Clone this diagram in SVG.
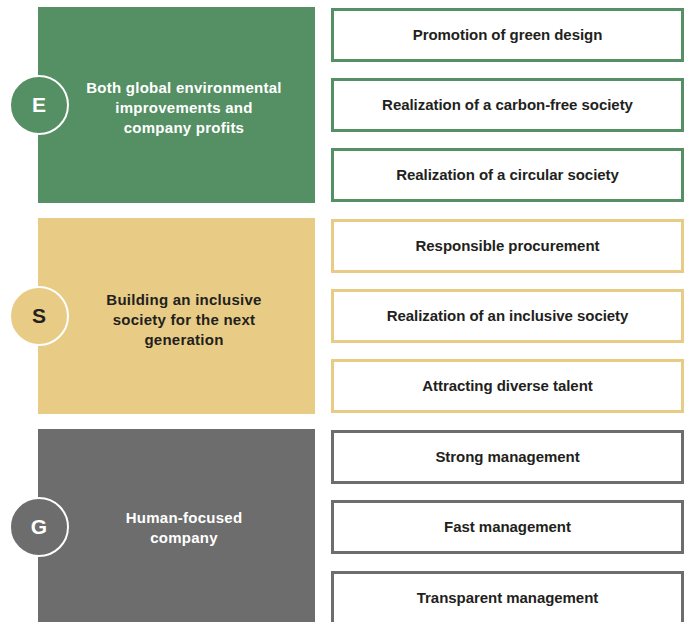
<svg xmlns="http://www.w3.org/2000/svg" width="689" height="622" viewBox="0 0 689 622">
<style>
.bg{fill:#ffffff}
.pe{fill:#558f64}
.ps{fill:#e8cc85}
.pg{fill:#6d6d6d}
.be{fill:#ffffff;stroke:#558f64;stroke-width:3}
.bs{fill:#ffffff;stroke:#e8cc85;stroke-width:3}
.bg2{fill:#ffffff;stroke:#6d6d6d;stroke-width:3}
.ce{fill:#558f64;stroke:#ffffff;stroke-width:2}
.cs{fill:#e8cc85;stroke:#ffffff;stroke-width:2}
.cg{fill:#6d6d6d;stroke:#ffffff;stroke-width:2}
text{font-family:"Liberation Sans",Arial,sans-serif;font-weight:bold;text-anchor:middle}
.bt{font-size:15px;fill:#231f20;letter-spacing:-0.05px}
.pt{font-size:15px;letter-spacing:0.25px}
.w{fill:#ffffff}
.d{fill:#231f20}
.lt{font-size:21px}
</style>
<rect class="bg" x="0" y="0" width="689" height="622"/>
<g id="panel-E">
<rect class="pe" x="38" y="7" width="277" height="196"/>
<circle class="ce" cx="39" cy="105" r="29"/>
<text class="lt w" x="39" y="112">E</text>
<text class="pt w" x="184" y="93">Both global environmental</text>
<text class="pt w" x="184" y="113">improvements and</text>
<text class="pt w" x="184" y="133">company profits</text>
</g>
<g id="panel-S">
<rect class="ps" x="38" y="218" width="277" height="196"/>
<circle class="cs" cx="39" cy="316" r="29"/>
<text class="lt d" x="39" y="323">S</text>
<text class="pt d" x="184" y="305">Building an inclusive</text>
<text class="pt d" x="184" y="325">society for the next</text>
<text class="pt d" x="184" y="345">generation</text>
</g>
<g id="panel-G">
<rect class="pg" x="38" y="429" width="277" height="200"/>
<circle class="cg" cx="39" cy="527" r="29"/>
<text class="lt w" x="39" y="534">G</text>
<text class="pt w" x="184" y="523">Human-focused</text>
<text class="pt w" x="184" y="543">company</text>
</g>
<g id="box-green-design">
<rect class="be" x="332.5" y="9.5" width="350" height="51"/>
<text class="bt" x="507.5" y="40">Promotion of green design</text>
</g>
<g id="box-carbon-free">
<rect class="be" x="332.5" y="79.5" width="350" height="51"/>
<text class="bt" x="507.5" y="110">Realization of a carbon-free society</text>
</g>
<g id="box-circular">
<rect class="be" x="332.5" y="149.5" width="350" height="51"/>
<text class="bt" x="507.5" y="180">Realization of a circular society</text>
</g>
<g id="box-procurement">
<rect class="bs" x="332.5" y="220.5" width="350" height="51"/>
<text class="bt" x="507.5" y="251">Responsible procurement</text>
</g>
<g id="box-inclusive">
<rect class="bs" x="332.5" y="290.5" width="350" height="51"/>
<text class="bt" x="507.5" y="321">Realization of an inclusive society</text>
</g>
<g id="box-talent">
<rect class="bs" x="332.5" y="360.5" width="350" height="51"/>
<text class="bt" x="507.5" y="391">Attracting diverse talent</text>
</g>
<g id="box-strong">
<rect class="bg2" x="332.5" y="431.5" width="350" height="51"/>
<text class="bt" x="507.5" y="462">Strong management</text>
</g>
<g id="box-fast">
<rect class="bg2" x="332.5" y="501.5" width="350" height="51"/>
<text class="bt" x="507.5" y="532">Fast management</text>
</g>
<g id="box-transparent">
<rect class="bg2" x="332.5" y="572.5" width="350" height="60"/>
<text class="bt" x="507.5" y="603">Transparent management</text>
</g>
</svg>
